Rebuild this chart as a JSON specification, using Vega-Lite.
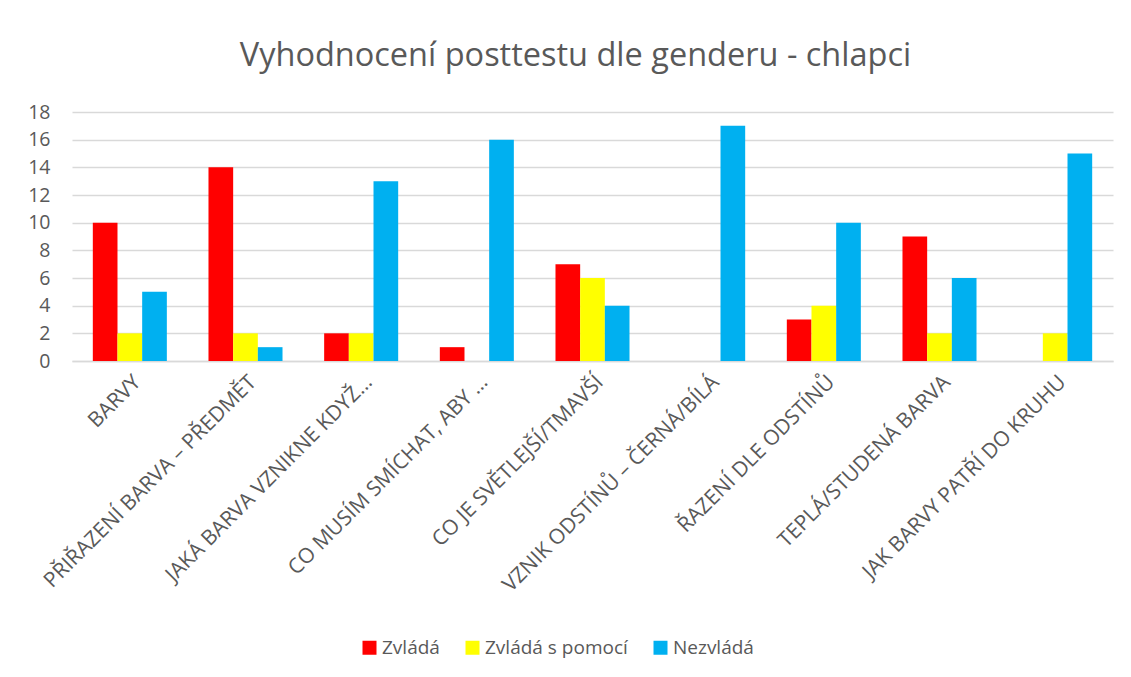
{
  "$schema": "https://vega.github.io/schema/vega-lite/v6.json",
  "width": 1041,
  "height": 249,
  "autosize": {"type": "none"},
  "padding": {"left": 72, "top": 112, "right": 18, "bottom": 316},
  "background": "white",
  "title": {
    "text": "Vyhodnocení posttestu dle genderu - chlapci",
    "font": "Open Sans",
    "fontSize": 32.5,
    "fontWeight": "normal",
    "color": "#595959",
    "anchor": "middle",
    "dx": -17,
    "offset": 30
  },
  "data": {
    "values": [
      {"kategorie": "BARVY", "serie": "Zvládá", "pocet": 10},
      {"kategorie": "BARVY", "serie": "Zvládá s pomocí", "pocet": 2},
      {"kategorie": "BARVY", "serie": "Nezvládá", "pocet": 5},
      {"kategorie": "PŘIŘAZENÍ BARVA – PŘEDMĚT", "serie": "Zvládá", "pocet": 14},
      {"kategorie": "PŘIŘAZENÍ BARVA – PŘEDMĚT", "serie": "Zvládá s pomocí", "pocet": 2},
      {"kategorie": "PŘIŘAZENÍ BARVA – PŘEDMĚT", "serie": "Nezvládá", "pocet": 1},
      {"kategorie": "JAKÁ BARVA VZNIKNE KDYŽ…", "serie": "Zvládá", "pocet": 2},
      {"kategorie": "JAKÁ BARVA VZNIKNE KDYŽ…", "serie": "Zvládá s pomocí", "pocet": 2},
      {"kategorie": "JAKÁ BARVA VZNIKNE KDYŽ…", "serie": "Nezvládá", "pocet": 13},
      {"kategorie": "CO MUSÍM SMÍCHAT, ABY …", "serie": "Zvládá", "pocet": 1},
      {"kategorie": "CO MUSÍM SMÍCHAT, ABY …", "serie": "Zvládá s pomocí", "pocet": 0},
      {"kategorie": "CO MUSÍM SMÍCHAT, ABY …", "serie": "Nezvládá", "pocet": 16},
      {"kategorie": "CO JE SVĚTLEJŠÍ/TMAVŠÍ", "serie": "Zvládá", "pocet": 7},
      {"kategorie": "CO JE SVĚTLEJŠÍ/TMAVŠÍ", "serie": "Zvládá s pomocí", "pocet": 6},
      {"kategorie": "CO JE SVĚTLEJŠÍ/TMAVŠÍ", "serie": "Nezvládá", "pocet": 4},
      {"kategorie": "VZNIK ODSTÍNŮ – ČERNÁ/BÍLÁ", "serie": "Zvládá", "pocet": 0},
      {"kategorie": "VZNIK ODSTÍNŮ – ČERNÁ/BÍLÁ", "serie": "Zvládá s pomocí", "pocet": 0},
      {"kategorie": "VZNIK ODSTÍNŮ – ČERNÁ/BÍLÁ", "serie": "Nezvládá", "pocet": 17},
      {"kategorie": "ŘAZENÍ DLE ODSTÍNŮ", "serie": "Zvládá", "pocet": 3},
      {"kategorie": "ŘAZENÍ DLE ODSTÍNŮ", "serie": "Zvládá s pomocí", "pocet": 4},
      {"kategorie": "ŘAZENÍ DLE ODSTÍNŮ", "serie": "Nezvládá", "pocet": 10},
      {"kategorie": "TEPLÁ/STUDENÁ BARVA", "serie": "Zvládá", "pocet": 9},
      {"kategorie": "TEPLÁ/STUDENÁ BARVA", "serie": "Zvládá s pomocí", "pocet": 2},
      {"kategorie": "TEPLÁ/STUDENÁ BARVA", "serie": "Nezvládá", "pocet": 6},
      {"kategorie": "JAK BARVY PATŘÍ DO KRUHU", "serie": "Zvládá", "pocet": 0},
      {"kategorie": "JAK BARVY PATŘÍ DO KRUHU", "serie": "Zvládá s pomocí", "pocet": 2},
      {"kategorie": "JAK BARVY PATŘÍ DO KRUHU", "serie": "Nezvládá", "pocet": 15}
    ]
  },
  "mark": {"type": "bar"},
  "encoding": {
    "x": {
      "field": "kategorie",
      "type": "nominal",
      "sort": null,
      "scale": {"paddingInner": 0.36, "paddingOuter": 0.18},
      "axis": {
        "title": null,
        "labelAngle": -45,
        "labelFont": "Open Sans",
        "labelFontSize": 21,
        "labelColor": "#595959",
        "labelPadding": 10,
        "labelLimit": 400,
        "ticks": false,
        "domainColor": "#D9D9D9",
        "domainWidth": 1.3,
        "grid": false
      }
    },
    "xOffset": {
      "field": "serie",
      "type": "nominal",
      "sort": ["Zvládá", "Zvládá s pomocí", "Nezvládá"],
      "scale": {"paddingInner": 0, "paddingOuter": 0}
    },
    "y": {
      "field": "pocet",
      "type": "quantitative",
      "scale": {"domain": [0, 18]},
      "axis": {
        "title": null,
        "values": [0, 2, 4, 6, 8, 10, 12, 14, 16, 18],
        "labelFont": "Open Sans",
        "labelFontSize": 19.5,
        "labelColor": "#595959",
        "labelPadding": 22,
        "ticks": false,
        "domain": false,
        "gridColor": "#D9D9D9",
        "gridWidth": 1.3
      }
    },
    "color": {
      "field": "serie",
      "type": "nominal",
      "sort": ["Zvládá", "Zvládá s pomocí", "Nezvládá"],
      "scale": {
        "domain": ["Zvládá", "Zvládá s pomocí", "Nezvládá"],
        "range": ["#FF0000", "#FFFF00", "#00B0F0"]
      },
      "legend": {
        "title": null,
        "orient": "none",
        "direction": "horizontal",
        "legendX": 288,
        "legendY": 526,
        "symbolType": "square",
        "symbolSize": 196,
        "symbolStrokeWidth": 0,
        "symbolOpacity": 1,
        "labelFont": "Open Sans",
        "labelFontSize": 19,
        "labelColor": "#595959",
        "labelOffset": 3,
        "columnPadding": 23
      }
    }
  },
  "config": {
    "view": {"stroke": null}
  }
}
